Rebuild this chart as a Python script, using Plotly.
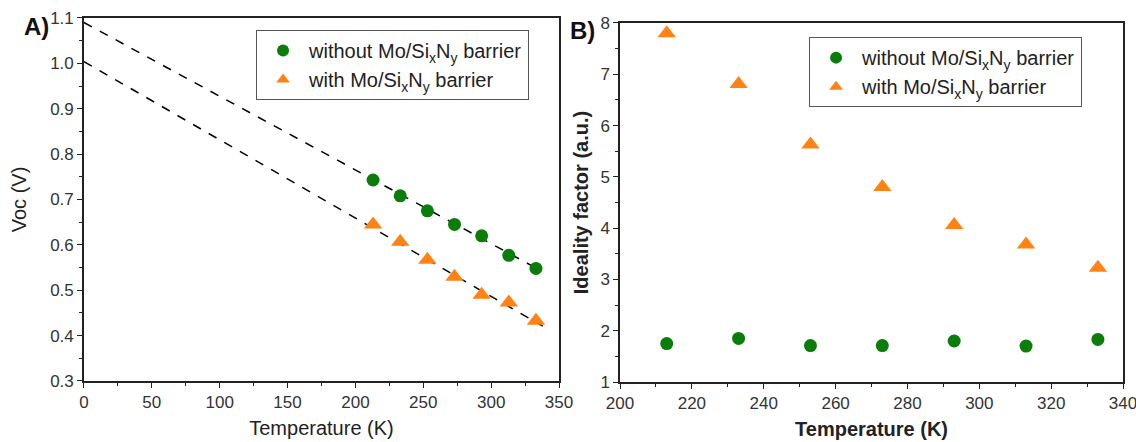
import plotly.graph_objects as go

# ---- data ----
temps = [213, 233, 253, 273, 293, 313, 333]
voc_without = [0.743, 0.708, 0.675, 0.645, 0.620, 0.577, 0.548]
voc_with = [0.645, 0.607, 0.567, 0.530, 0.490, 0.473, 0.433]
fit_x = [0, 338]
fit_without = [1.090, 0.541]
fit_with = [1.004, 0.421]
ideal_without = [1.75, 1.85, 1.71, 1.71, 1.80, 1.70, 1.83]
ideal_with = [7.80, 6.81, 5.63, 4.80, 4.06, 3.68, 3.23]

GREEN = "#0a7d0a"
ORANGE = "#ff8314"
FONT = "Liberation Sans, Arial, sans-serif"
name_without = "without Mo/Si<sub>x</sub>N<sub>y</sub> barrier"
name_with = "with Mo/Si<sub>x</sub>N<sub>y</sub> barrier"

fig = go.Figure()

# Panel A
fig.add_trace(go.Scatter(x=fit_x, y=fit_without, mode="lines", line=dict(color="black", width=1.5, dash="dash"),
                         showlegend=False, xaxis="x", yaxis="y"))
fig.add_trace(go.Scatter(x=fit_x, y=fit_with, mode="lines", line=dict(color="black", width=1.5, dash="dash"),
                         showlegend=False, xaxis="x", yaxis="y"))
fig.add_trace(go.Scatter(x=temps, y=voc_without, mode="markers", name=name_without,
                         marker=dict(symbol="circle", size=13, color=GREEN), xaxis="x", yaxis="y", legend="legend"))
fig.add_trace(go.Scatter(x=temps, y=voc_with, mode="markers", name=name_with,
                         marker=dict(symbol="triangle-up", size=16, color=ORANGE), xaxis="x", yaxis="y", legend="legend"))

# Panel B
fig.add_trace(go.Scatter(x=temps, y=ideal_without, mode="markers", name=name_without,
                         marker=dict(symbol="circle", size=13, color=GREEN), xaxis="x2", yaxis="y2", legend="legend2"))
fig.add_trace(go.Scatter(x=temps, y=ideal_with, mode="markers", name=name_with,
                         marker=dict(symbol="triangle-up", size=16, color=ORANGE), xaxis="x2", yaxis="y2", legend="legend2"))

axis_common = dict(showline=True, linecolor="#222", linewidth=1.5, mirror=True, ticks="outside",
                   ticklen=5, tickwidth=1.2, tickcolor="#222", showgrid=False, zeroline=False,
                   automargin=False, ticklabeloverflow="allow",
                   tickfont=dict(family=FONT, size=17, color="#333"))

fig.update_layout(
    width=1136, height=442,
    margin=dict(l=0, r=0, t=0, b=0),
    paper_bgcolor="white", plot_bgcolor="white",
    font=dict(family=FONT, size=17, color="#222"),
    xaxis=dict(domain=[0.0739, 0.4921], range=[0, 350], dtick=50,
               minor=dict(dtick=25, ticks="outside", ticklen=3, tickcolor="#222"),
               title=dict(text="Temperature (K)", font=dict(family=FONT, size=20), standoff=10),
               anchor="y", **axis_common),
    yaxis=dict(domain=[0.138, 0.9593], range=[0.3, 1.1], dtick=0.1, tickformat=".1f",
               minor=dict(dtick=0.05, ticks="outside", ticklen=3, tickcolor="#222"),
               title=dict(text="Voc (V)", font=dict(family=FONT, size=20), standoff=18),
               anchor="x", **axis_common),
    xaxis2=dict(domain=[0.5458, 0.9886], range=[200, 340], dtick=20,
                minor=dict(dtick=10, ticks="outside", ticklen=3, tickcolor="#222"),
                title=dict(text="<b>Temperature (K)</b>", font=dict(family=FONT, size=20), standoff=10),
                anchor="y2", **axis_common),
    yaxis2=dict(domain=[0.1357, 0.948], range=[1, 8], dtick=1,
                minor=dict(dtick=0.5, ticks="outside", ticklen=3, tickcolor="#222"),
                title=dict(text="<b>Ideality factor (a.u.)</b>", font=dict(family=FONT, size=20), standoff=6),
                anchor="x2", **axis_common),
    legend=dict(x=0.2254, y=0.932, xanchor="left", yanchor="top", bgcolor="white",
                bordercolor="#555", borderwidth=1, font=dict(family=FONT, size=20, color="#222"),
                tracegroupgap=0, itemsizing="constant", itemwidth=42),
    legend2=dict(x=0.7122, y=0.916, xanchor="left", yanchor="top", bgcolor="white",
                 bordercolor="#555", borderwidth=1, font=dict(family=FONT, size=20, color="#222"),
                 tracegroupgap=0, itemsizing="constant", itemwidth=42),
    annotations=[
        dict(text="<b>A)</b>", x=0.019, y=0.975, xref="paper", yref="paper", xanchor="left", yanchor="top",
             showarrow=False, font=dict(family=FONT, size=24, color="#111")),
        dict(text="<b>B)</b>", x=0.5, y=0.965, xref="paper", yref="paper", xanchor="left", yanchor="top",
             showarrow=False, font=dict(family=FONT, size=24, color="#111")),
    ],
)

fig.write_html("out.html")
